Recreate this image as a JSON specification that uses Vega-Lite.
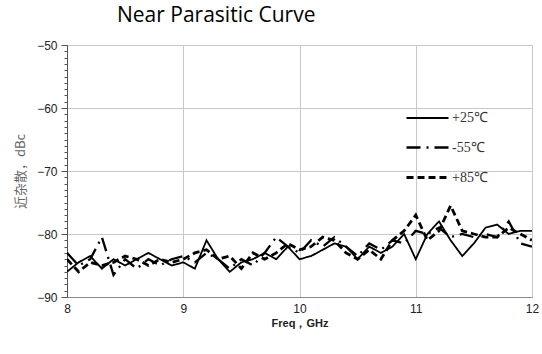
{
  "$schema": "https://vega.github.io/schema/vega-lite/v6.json",
  "width": 465,
  "height": 252,
  "autosize": "none",
  "padding": {"left": 67, "top": 45, "right": 10, "bottom": 57},
  "background": "white",
  "config": {
    "view": {"stroke": "#a0a0a0", "strokeWidth": 1},
    "font": "Liberation Sans"
  },
  "title": {
    "text": "Near Parasitic Curve",
    "anchor": "start",
    "frame": "group",
    "dx": 50,
    "offset": 13,
    "font": "Open Sans",
    "fontSize": 21,
    "fontWeight": "normal",
    "color": "#000000"
  },
  "data": {
    "values": [
      {"f": 8.0, "v": -86, "T": "+25℃"}, {"f": 8.1, "v": -84.5, "T": "+25℃"}, {"f": 8.2, "v": -83.5, "T": "+25℃"}, {"f": 8.3, "v": -85.5, "T": "+25℃"}, {"f": 8.4, "v": -84, "T": "+25℃"},
      {"f": 8.5, "v": -85, "T": "+25℃"}, {"f": 8.6, "v": -84, "T": "+25℃"}, {"f": 8.7, "v": -83, "T": "+25℃"}, {"f": 8.8, "v": -84, "T": "+25℃"}, {"f": 8.9, "v": -85, "T": "+25℃"},
      {"f": 9.0, "v": -84.5, "T": "+25℃"}, {"f": 9.1, "v": -85.5, "T": "+25℃"}, {"f": 9.2, "v": -81, "T": "+25℃"}, {"f": 9.3, "v": -84, "T": "+25℃"}, {"f": 9.4, "v": -86, "T": "+25℃"},
      {"f": 9.5, "v": -84.5, "T": "+25℃"}, {"f": 9.6, "v": -84, "T": "+25℃"}, {"f": 9.7, "v": -83, "T": "+25℃"}, {"f": 9.8, "v": -84, "T": "+25℃"}, {"f": 9.9, "v": -82, "T": "+25℃"},
      {"f": 10.0, "v": -84, "T": "+25℃"}, {"f": 10.1, "v": -83.5, "T": "+25℃"}, {"f": 10.2, "v": -82.5, "T": "+25℃"}, {"f": 10.3, "v": -81.5, "T": "+25℃"}, {"f": 10.4, "v": -82, "T": "+25℃"},
      {"f": 10.5, "v": -84, "T": "+25℃"}, {"f": 10.6, "v": -82, "T": "+25℃"}, {"f": 10.7, "v": -83, "T": "+25℃"}, {"f": 10.8, "v": -82, "T": "+25℃"}, {"f": 10.9, "v": -80, "T": "+25℃"},
      {"f": 11.0, "v": -84, "T": "+25℃"}, {"f": 11.1, "v": -80, "T": "+25℃"}, {"f": 11.2, "v": -78, "T": "+25℃"}, {"f": 11.3, "v": -81, "T": "+25℃"}, {"f": 11.4, "v": -83.5, "T": "+25℃"},
      {"f": 11.5, "v": -81.5, "T": "+25℃"}, {"f": 11.6, "v": -79, "T": "+25℃"}, {"f": 11.7, "v": -78.5, "T": "+25℃"}, {"f": 11.8, "v": -80, "T": "+25℃"}, {"f": 11.9, "v": -79.5, "T": "+25℃"},
      {"f": 12.0, "v": -79.5, "T": "+25℃"},

      {"f": 8.0, "v": -83, "T": "-55℃"}, {"f": 8.1, "v": -85, "T": "-55℃"}, {"f": 8.2, "v": -84, "T": "-55℃"}, {"f": 8.3, "v": -80.5, "T": "-55℃"}, {"f": 8.4, "v": -86.5, "T": "-55℃"},
      {"f": 8.5, "v": -84, "T": "-55℃"}, {"f": 8.6, "v": -85.5, "T": "-55℃"}, {"f": 8.7, "v": -84, "T": "-55℃"}, {"f": 8.8, "v": -85, "T": "-55℃"}, {"f": 8.9, "v": -84, "T": "-55℃"},
      {"f": 9.0, "v": -83.5, "T": "-55℃"}, {"f": 9.1, "v": -84.5, "T": "-55℃"}, {"f": 9.2, "v": -83, "T": "-55℃"}, {"f": 9.3, "v": -84, "T": "-55℃"}, {"f": 9.4, "v": -85.5, "T": "-55℃"},
      {"f": 9.5, "v": -84, "T": "-55℃"}, {"f": 9.6, "v": -85, "T": "-55℃"}, {"f": 9.7, "v": -83, "T": "-55℃"}, {"f": 9.8, "v": -80.5, "T": "-55℃"}, {"f": 9.9, "v": -82, "T": "-55℃"},
      {"f": 10.0, "v": -83, "T": "-55℃"}, {"f": 10.1, "v": -81, "T": "-55℃"}, {"f": 10.2, "v": -82, "T": "-55℃"}, {"f": 10.3, "v": -80.5, "T": "-55℃"}, {"f": 10.4, "v": -82, "T": "-55℃"},
      {"f": 10.5, "v": -83.5, "T": "-55℃"}, {"f": 10.6, "v": -81.5, "T": "-55℃"}, {"f": 10.7, "v": -82.5, "T": "-55℃"}, {"f": 10.8, "v": -81, "T": "-55℃"}, {"f": 10.9, "v": -81.5, "T": "-55℃"},
      {"f": 11.0, "v": -79.5, "T": "-55℃"}, {"f": 11.1, "v": -80, "T": "-55℃"}, {"f": 11.2, "v": -79, "T": "-55℃"}, {"f": 11.3, "v": -80.5, "T": "-55℃"}, {"f": 11.4, "v": -80, "T": "-55℃"},
      {"f": 11.5, "v": -80.5, "T": "-55℃"}, {"f": 11.6, "v": -80, "T": "-55℃"}, {"f": 11.7, "v": -80.5, "T": "-55℃"}, {"f": 11.8, "v": -78, "T": "-55℃"}, {"f": 11.9, "v": -81.5, "T": "-55℃"},
      {"f": 12.0, "v": -82, "T": "-55℃"},

      {"f": 8.0, "v": -84, "T": "+85℃"}, {"f": 8.1, "v": -86, "T": "+85℃"}, {"f": 8.2, "v": -84.5, "T": "+85℃"}, {"f": 8.3, "v": -85, "T": "+85℃"}, {"f": 8.4, "v": -84.5, "T": "+85℃"},
      {"f": 8.5, "v": -83.5, "T": "+85℃"}, {"f": 8.6, "v": -84, "T": "+85℃"}, {"f": 8.7, "v": -85, "T": "+85℃"}, {"f": 8.8, "v": -84, "T": "+85℃"}, {"f": 8.9, "v": -84.5, "T": "+85℃"},
      {"f": 9.0, "v": -84, "T": "+85℃"}, {"f": 9.1, "v": -83, "T": "+85℃"}, {"f": 9.2, "v": -82.5, "T": "+85℃"}, {"f": 9.3, "v": -84, "T": "+85℃"}, {"f": 9.4, "v": -83.5, "T": "+85℃"},
      {"f": 9.5, "v": -85.5, "T": "+85℃"}, {"f": 9.6, "v": -83, "T": "+85℃"}, {"f": 9.7, "v": -84, "T": "+85℃"}, {"f": 9.8, "v": -83, "T": "+85℃"}, {"f": 9.9, "v": -81.5, "T": "+85℃"},
      {"f": 10.0, "v": -82.5, "T": "+85℃"}, {"f": 10.1, "v": -82, "T": "+85℃"}, {"f": 10.2, "v": -80.5, "T": "+85℃"}, {"f": 10.3, "v": -81, "T": "+85℃"}, {"f": 10.4, "v": -83, "T": "+85℃"},
      {"f": 10.5, "v": -84, "T": "+85℃"}, {"f": 10.6, "v": -82.5, "T": "+85℃"}, {"f": 10.7, "v": -84, "T": "+85℃"}, {"f": 10.8, "v": -81, "T": "+85℃"}, {"f": 10.9, "v": -79.5, "T": "+85℃"},
      {"f": 11.0, "v": -77, "T": "+85℃"}, {"f": 11.1, "v": -81, "T": "+85℃"}, {"f": 11.2, "v": -79.5, "T": "+85℃"}, {"f": 11.3, "v": -75.5, "T": "+85℃"}, {"f": 11.4, "v": -79.5, "T": "+85℃"},
      {"f": 11.5, "v": -80, "T": "+85℃"}, {"f": 11.6, "v": -80.5, "T": "+85℃"}, {"f": 11.7, "v": -80.5, "T": "+85℃"}, {"f": 11.8, "v": -79, "T": "+85℃"}, {"f": 11.9, "v": -80, "T": "+85℃"},
      {"f": 12.0, "v": -81, "T": "+85℃"}
    ]
  },
  "mark": {"type": "line", "color": "#000000", "clip": true},
  "encoding": {
    "x": {
      "field": "f", "type": "quantitative",
      "scale": {"domain": [8, 12], "nice": false, "zero": false},
      "axis": {
        "values": [8, 9, 10, 11, 12],
        "title": "Freq，GHz",
        "titleFont": "Liberation Sans", "titleFontSize": 11, "titleFontWeight": "bold", "titleColor": "#222",
        "titlePadding": 3,
        "labelFontSize": 12, "labelColor": "#222", "labelPadding": 6, "labelFlush": false,
        "ticks": false,
        "domainColor": "#888",
        "gridColor": "#c8c8c8", "gridWidth": 1
      }
    },
    "y": {
      "field": "v", "type": "quantitative",
      "scale": {"domain": [-90, -50], "nice": false, "zero": false},
      "axis": {
        "values": [-90,-89,-88,-87,-86,-85,-84,-83,-82,-81,-80,-79,-78,-77,-76,-75,-74,-73,-72,-71,-70,-69,-68,-67,-66,-65,-64,-63,-62,-61,-60,-59,-58,-57,-56,-55,-54,-53,-52,-51,-50],
        "labelExpr": "datum.value % 10 === 0 ? datum.label : ''",
        "tickSize": {"condition": {"test": "datum.value % 10 === 0", "value": 6}, "value": 3},
        "gridOpacity": {"condition": {"test": "datum.value % 10 === 0", "value": 1}, "value": 0},
        "gridColor": "#c8c8c8",
        "tickColor": "#555",
        "domainColor": "#555",
        "labelFontSize": 12, "labelColor": "#222", "labelPadding": 4,
        "title": "近杂散，dBc",
        "titleFont": "Noto Sans CJK SC", "titleFontSize": 13, "titleFontWeight": "normal", "titleColor": "#666",
        "titleX": -40, "titleY": 126
      }
    },
    "strokeDash": {
      "field": "T", "type": "nominal",
      "scale": {"domain": ["+25℃", "-55℃", "+85℃"], "range": [[1, 0], [14, 6, 2, 6], [7, 4]]},
      "legend": {
        "orient": "none", "legendX": 338, "legendY": 51,
        "title": null,
        "symbolType": "stroke", "symbolSize": 1764, "symbolStrokeWidth": 2.5, "symbolStrokeColor": "#000",
        "labelFont": "Liberation Serif", "labelFontSize": 14, "labelColor": "#333", "labelOffset": 2,
        "rowPadding": -3.5
      }
    },
    "strokeWidth": {
      "field": "T", "type": "nominal",
      "scale": {"domain": ["+25℃", "-55℃", "+85℃"], "range": [1.8, 2.8, 2]},
      "legend": null
    }
  }
}
